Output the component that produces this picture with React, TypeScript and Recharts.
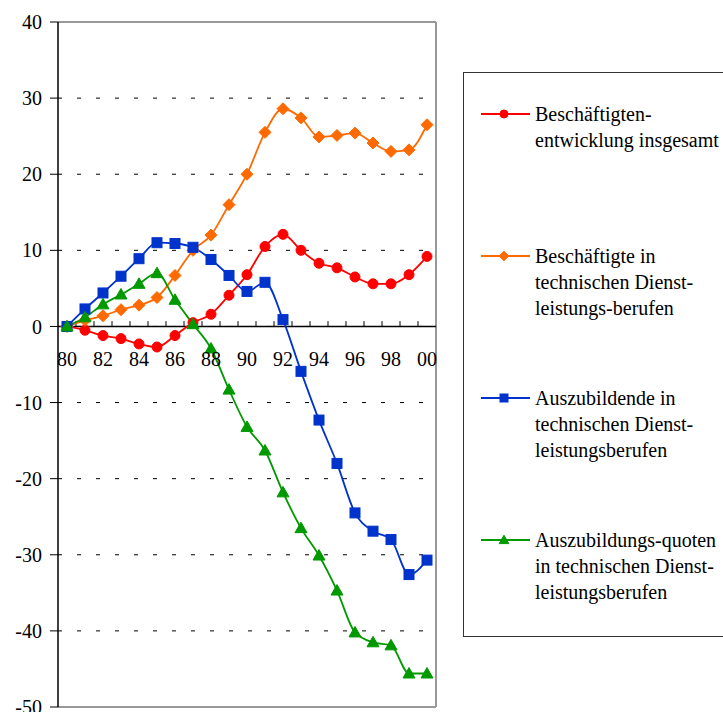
import React from 'react';
import { LineChart, Line, XAxis, YAxis, CartesianGrid, ReferenceLine, ReferenceDot } from 'recharts';

const years = [80, 81, 82, 83, 84, 85, 86, 87, 88, 89, 90, 91, 92, 93, 94, 95, 96, 97, 98, 99, 100];
const xLabelYears = [80, 82, 84, 86, 88, 90, 92, 94, 96, 98, 100];
const xLabels = ['80', '82', '84', '86', '88', '90', '92', '94', '96', '98', '00'];
const yTicks = [-50, -40, -30, -20, -10, 0, 10, 20, 30, 40];

const gesamt = [0, -0.5, -1.2, -1.6, -2.3, -2.7, -1.2, 0.5, 1.6, 4.1, 6.8, 10.5, 12.1, 10.0, 8.3, 7.7, 6.5, 5.6, 5.6, 6.8, 9.2];
const technisch = [0, 0.8, 1.4, 2.2, 2.8, 3.8, 6.7, 10.0, 12.0, 16.0, 20.0, 25.5, 28.6, 27.4, 24.9, 25.1, 25.4, 24.1, 23.0, 23.2, 26.5];
const azubis = [0, 2.3, 4.4, 6.6, 8.9, 11.0, 10.9, 10.4, 8.8, 6.7, 4.6, 5.8, 0.9, -5.9, -12.3, -18.0, -24.5, -26.9, -28.0, -32.6, -30.7];
const quoten = [0, 1.2, 2.9, 4.2, 5.6, 7.0, 3.5, 0.3, -2.9, -8.3, -13.2, -16.3, -21.8, -26.5, -30.1, -34.7, -40.2, -41.5, -41.9, -45.6, -45.6];

const seriesNames = [
  ['Beschäftigten-', 'entwicklung insgesamt'],
  ['Beschäftigte in', 'technischen Dienst-', 'leistungs-berufen'],
  ['Auszubildende in', 'technischen Dienst-', 'leistungsberufen'],
  ['Auszubildungs-quoten', 'in technischen Dienst-', 'leistungsberufen'],
];
const seriesKeys = ['gesamt', 'technisch', 'azubis', 'quoten'];
const seriesColors = ['#FF0000', '#FF6A00', '#0033CC', '#009900'];
const seriesShapes = ['circle', 'diamond', 'square', 'triangle'];

const data = years.map((y, i) => ({
  year: y,
  gesamt: gesamt[i],
  technisch: technisch[i],
  azubis: azubis[i],
  quoten: quoten[i],
}));

const boundaries = years.slice(1).map((y) => y - 0.5);

const FONT = '"Liberation Serif", "Times New Roman", serif';
const FS = 20;

function Marker({ shape, cx, cy, color, s }: { shape: string; cx: number; cy: number; color: string; s: number }) {
  if (shape === 'circle') return <circle cx={cx} cy={cy} r={s * 5} fill={color} stroke={color} />;
  if (shape === 'diamond') {
    const r = s * 6;
    return <path d={`M${cx},${cy - r}L${cx + r},${cy}L${cx},${cy + r}L${cx - r},${cy}Z`} fill={color} stroke={color} />;
  }
  if (shape === 'square') {
    const h = s * 5;
    return <rect x={cx - h} y={cy - h} width={2 * h} height={2 * h} fill={color} stroke={color} />;
  }
  const w = s * 6;
  return <path d={`M${cx},${cy - w}L${cx + w},${cy + w * 0.75}L${cx - w},${cy + w * 0.75}Z`} fill={color} stroke={color} />;
}

function makeDot(shape: string, color: string) {
  return (props: any) => {
    const { cx, cy, index } = props;
    if (cx == null || cy == null) return <g key={`e-${index}`} />;
    return (
      <g key={`d-${shape}-${index}`}>
        <Marker shape={shape} cx={cx} cy={cy} color={color} s={1} />
      </g>
    );
  };
}

function LegendBox() {
  return (
    <div
      style={{
        position: 'absolute',
        left: 463,
        top: 72,
        width: 320,
        height: 565,
        border: '1px solid #333',
        boxSizing: 'border-box',
        background: '#fff',
      }}
    >
      {seriesNames.map((lines, i) => (
        <div key={i} style={{ position: 'absolute', left: 0, top: 28 + i * 142, width: 320 }}>
          <svg width={70} height={26} style={{ position: 'absolute', left: 0, top: 0 }}>
            <line x1={17} y1={13} x2={66} y2={13} stroke={seriesColors[i]} strokeWidth={2} />
            <Marker shape={seriesShapes[i]} cx={40} cy={13} color={seriesColors[i]} s={0.8} />
          </svg>
          <div style={{ position: 'absolute', left: 71, top: 0, fontSize: FS, lineHeight: '26px', color: '#000', fontFamily: FONT, whiteSpace: 'nowrap' }}>
            {lines.map((l, j) => (
              <div key={j}>{l}</div>
            ))}
          </div>
        </div>
      ))}
    </div>
  );
}

export default function App() {
  return (
    <div
      style={{
        position: 'fixed',
        left: 0,
        top: 0,
        width: 723,
        height: 712,
        overflow: 'hidden',
        background: '#fff',
        fontFamily: FONT,
      }}
    >
      <LineChart width={723} height={712} data={data} margin={{ top: 22, right: 287, bottom: 5, left: 0 }}>
        <CartesianGrid vertical={false} stroke="#000" strokeDasharray="4 15" />
        <XAxis dataKey="year" type="number" domain={[79.5, 100.5]} hide />
        <YAxis
          type="number"
          domain={[-50, 40]}
          ticks={yTicks}
          interval={0}
          width={58}
          tickSize={8}
          tickMargin={8}
          axisLine={{ stroke: '#000', strokeWidth: 1.5 }}
          tickLine={{ stroke: '#000', strokeWidth: 1 }}
          tick={{ fill: '#000', fontSize: FS, fontFamily: FONT }}
        />
        <ReferenceLine y={40} stroke="#999" strokeWidth={2} />
        <ReferenceLine y={-50} stroke="#999" strokeWidth={2} />
        <ReferenceLine x={100.5} stroke="#999" strokeWidth={2} />
        <ReferenceLine y={0} stroke="#000" strokeWidth={1.5} />
        {boundaries.map((b) => (
          <ReferenceLine key={`t-${b}`} segment={[{ x: b, y: 0 }, { x: b, y: 0.7 }]} stroke="#000" strokeWidth={1} />
        ))}
        {xLabelYears.map((y, i) => (
          <ReferenceDot
            key={`l-${y}`}
            x={y}
            y={0}
            r={0}
            fill="none"
            stroke="none"
            label={{ value: xLabels[i], position: 'bottom', offset: 25, fill: '#000', fontSize: FS, fontFamily: FONT }}
          />
        ))}
        {seriesKeys.map((k, i) => (
          <Line
            key={k}
            dataKey={k}
            type="monotone"
            stroke={seriesColors[i]}
            strokeWidth={1.8}
            dot={makeDot(seriesShapes[i], seriesColors[i])}
            activeDot={false}
            isAnimationActive={false}
          />
        ))}
      </LineChart>
      <LegendBox />
    </div>
  );
}
